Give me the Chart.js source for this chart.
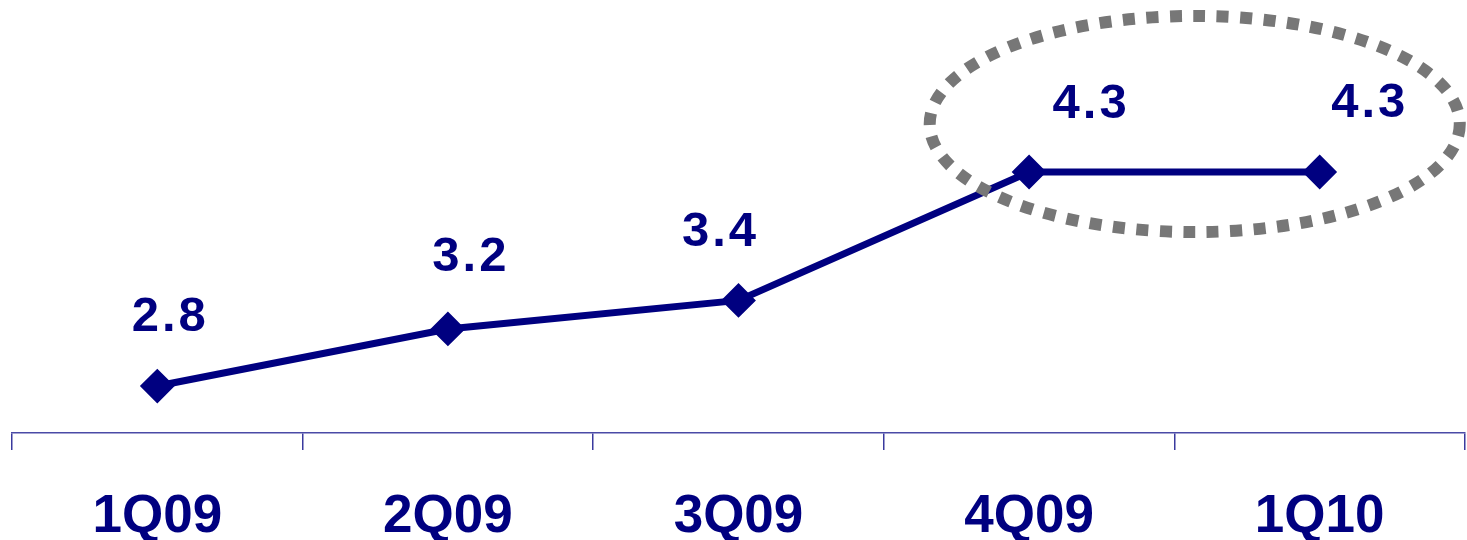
<!DOCTYPE html>
<html>
<head>
<meta charset="utf-8">
<script src="https://cdn.jsdelivr.net/npm/chart.js@4/dist/chart.umd.min.js"></script>
<style>
  html, body { margin: 0; padding: 0; background: #ffffff; }
  #wrap { width: 1467px; height: 540px; position: relative; }
</style>
</head>
<body>
<div id="wrap"><canvas id="chart"></canvas></div>
<script>
// Quarterly values
const quarters = ['1Q09', '2Q09', '3Q09', '4Q09', '1Q10'];
const values = [2.8, 3.2, 3.4, 4.3, 4.3];
const valueLabels = ['2.8', '3.2', '3.4', '4.3', '4.3'];

// Label placement relative to each point (pixels)
const labelShift = [[13, -55], [23, -58], [-18, -54], [62, -54], [50, -55]];

const NAVY = '#000080';
const FONT = '"Liberation Sans", Arial, sans-serif';

// Value labels drawn above the markers
const valueLabelPlugin = {
  id: 'valueLabels',
  afterDatasetsDraw(chart) {
    const ctx = chart.ctx;
    const meta = chart.getDatasetMeta(0);
    ctx.save();
    ctx.fillStyle = NAVY;
    ctx.font = 'bold 49px ' + FONT;
    ctx.textAlign = 'center';
    ctx.textBaseline = 'alphabetic';
    if ('letterSpacing' in ctx) ctx.letterSpacing = '3px';
    meta.data.forEach((pt, i) => {
      const [dx, dy] = labelShift[i];
      ctx.fillText(valueLabels[i], pt.x + dx, pt.y + dy);
    });
    ctx.restore();
  }
};

// Dotted highlight ring around the last two quarters
const ringPlugin = {
  id: 'highlightRing',
  afterDatasetsDraw(chart) {
    const x = chart.scales.x, y = chart.scales.y;
    const cx = x.getPixelForValue(3.57);
    const rx = Math.abs(x.getPixelForValue(4) - x.getPixelForValue(3)) * 0.912;
    const cy = y.getPixelForValue(4.636);
    const ry = Math.abs(y.getPixelForValue(4.3) - y.getPixelForValue(5.057));
    const ctx = chart.ctx;
    ctx.save();
    ctx.strokeStyle = '#777777';
    ctx.lineWidth = 12;
    ctx.setLineDash([12, 11.5]);
    ctx.beginPath();
    ctx.ellipse(cx, cy, rx, ry, 0, 0, Math.PI * 2);
    ctx.stroke();
    ctx.restore();
  }
};

new Chart(document.getElementById('chart'), {
  type: 'line',
  data: {
    labels: quarters,
    datasets: [{
      data: values,
      borderColor: NAVY,
      backgroundColor: NAVY,
      borderWidth: 7,
      tension: 0,
      pointStyle: 'rectRot',
      pointRadius: 16,
      pointBorderWidth: 2,
      pointBackgroundColor: NAVY,
      pointBorderColor: NAVY,
      pointHoverRadius: 16
    }]
  },
  options: {
    responsive: true,
    maintainAspectRatio: false,
    animation: false,
    events: [],
    layout: { autoPadding: false, padding: { left: 12, right: 2, top: 0, bottom: 0 } },
    plugins: { legend: { display: false }, tooltip: { enabled: false } },
    scales: {
      x: {
        type: 'category',
        offset: true,
        afterFit(scale) {
          scale.height = 107;
          scale.paddingLeft = 0;
          scale.paddingRight = 0;
          scale.paddingTop = 0;
          scale.paddingBottom = 0;
        },
        border: { display: true, color: '#4a4aa6', width: 1.5 },
        grid: {
          offset: true,
          drawOnChartArea: false,
          drawTicks: true,
          tickLength: 17,
          color: '#3a3a9e',
          lineWidth: 1.5
        },
        ticks: {
          color: NAVY,
          font: { family: FONT, size: 53, weight: 'bold' },
          padding: 36,
          maxRotation: 0,
          autoSkip: false
        }
      },
      y: {
        display: false,
        min: 2.471,
        max: 5.505
      }
    }
  },
  plugins: [ringPlugin, valueLabelPlugin]
});
</script>
</body>
</html>
